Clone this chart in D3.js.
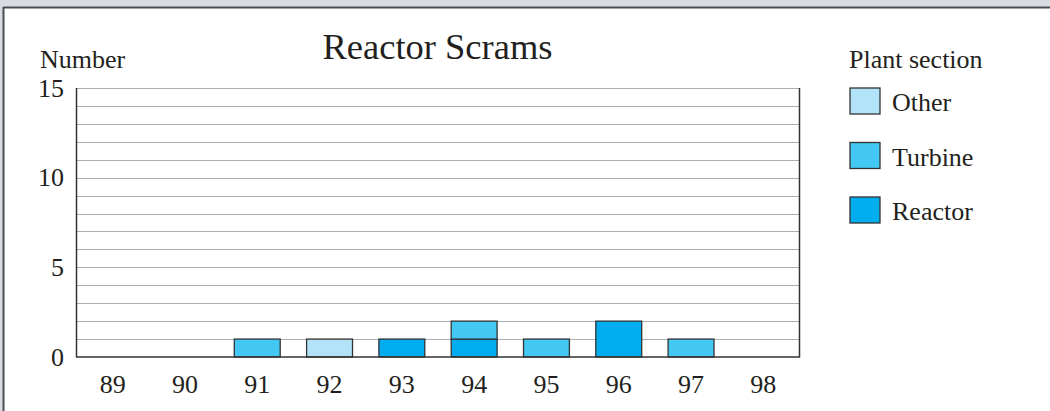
<!DOCTYPE html>
<html>
<head>
<meta charset="utf-8">
<script src="https://cdn.jsdelivr.net/npm/d3@7.9.0/dist/d3.min.js"></script>
<style>
  body { margin: 0; background: #d9dde1; }
  svg { display: block; font-family: "Liberation Serif", "Times New Roman", serif; }
</style>
</head>
<body>
<svg id="chart" width="1050" height="411"></svg>
<script>
// data
const years = ['89', '90', '91', '92', '93', '94', '95', '96', '97', '98'];
const sections = ['Reactor', 'Turbine', 'Other'];
const reactor = [0, 0, 0, 0, 1, 1, 0, 2, 0, 0];
const turbine = [0, 0, 1, 0, 0, 1, 1, 0, 1, 0];
const other   = [0, 0, 0, 1, 0, 0, 0, 0, 0, 0];
const yTicks = [0, 5, 10, 15];
const legendOrder = ['Other', 'Turbine', 'Reactor'];

const colors = { Other: '#b3e3f9', Turbine: '#42c8f3', Reactor: '#00adee' };

const svg = d3.select('#chart');

// window panel
svg.append('rect').attr('x', 4).attr('y', 8).attr('width', 1046).attr('height', 403).attr('fill', '#fff');
svg.append('line').attr('x1', 3).attr('x2', 1050).attr('y1', 7.5).attr('y2', 7.5)
  .attr('stroke', '#4a4d52').attr('stroke-width', 2);
svg.append('line').attr('x1', 3.5).attr('x2', 3.5).attr('y1', 7).attr('y2', 411)
  .attr('stroke', '#4a4d52').attr('stroke-width', 2);

const pLeft = 76.5, pRight = 799.5, pTop = 88, pBottom = 357;

const x = d3.scaleBand().domain(years).range([pLeft, pRight]).paddingInner(0.365).paddingOuter(0.1825);
const y = d3.scaleLinear().domain([0, 15]).range([pBottom, pTop]);

// grid lines at each unit
svg.append('g').selectAll('line').data(d3.range(1, 16)).join('line')
  .attr('x1', pLeft).attr('x2', pRight)
  .attr('y1', d => Math.round(y(d)) + 0.5).attr('y2', d => Math.round(y(d)) + 0.5)
  .attr('stroke', '#a9afb7').attr('stroke-width', 1);

// stacked bars
const table = years.map((yr, i) => ({ year: yr, Reactor: reactor[i], Turbine: turbine[i], Other: other[i] }));
const stack = d3.stack().keys(sections)(table);

svg.append('g').selectAll('g').data(stack).join('g')
  .attr('fill', d => colors[d.key])
  .selectAll('rect').data(d => d.filter(s => s[1] > s[0] || d.key === 'Reactor')).join('rect')
  .attr('x', d => x(d.data.year))
  .attr('width', x.bandwidth())
  .attr('y', d => y(d[1]))
  .attr('height', d => y(d[0]) - y(d[1]))
  .attr('stroke', '#333')
  .attr('stroke-width', 1.3);

// axis frame
svg.append('line').attr('x1', pLeft).attr('x2', pLeft).attr('y1', pTop).attr('y2', pBottom + 0.5)
  .attr('stroke', '#333').attr('stroke-width', 1.5);
svg.append('line').attr('x1', pRight).attr('x2', pRight).attr('y1', pTop).attr('y2', pBottom + 0.5)
  .attr('stroke', '#333').attr('stroke-width', 1.5);
svg.append('line').attr('x1', pLeft).attr('x2', pRight).attr('y1', pBottom).attr('y2', pBottom)
  .attr('stroke', '#333').attr('stroke-width', 1.5);

// y tick labels
svg.append('g').selectAll('text').data(yTicks).join('text')
  .attr('x', 64).attr('y', d => y(d)).attr('dy', '0.33em')
  .attr('text-anchor', 'end').attr('font-size', 26).attr('fill', '#231f20')
  .text(d => d);

// x tick labels
svg.append('g').selectAll('text').data(years).join('text')
  .attr('x', d => x(d) + x.bandwidth() / 2).attr('y', 393)
  .attr('text-anchor', 'middle').attr('font-size', 26).attr('fill', '#231f20')
  .text(d => d);

// titles
svg.append('text').attr('x', 437.5).attr('y', 59).attr('text-anchor', 'middle')
  .attr('font-size', 36.5).attr('fill', '#231f20').text('Reactor Scrams');
svg.append('text').attr('x', 40).attr('y', 68)
  .attr('font-size', 26).attr('fill', '#231f20').text('Number');

// legend
svg.append('text').attr('x', 849).attr('y', 68)
  .attr('font-size', 26).attr('fill', '#231f20').text('Plant section');

const lg = svg.append('g').selectAll('g').data(legendOrder).join('g')
  .attr('transform', (d, i) => `translate(850, ${88 + i * 54.5})`);
lg.append('rect').attr('width', 30).attr('height', 26)
  .attr('fill', d => colors[d]).attr('stroke', '#333').attr('stroke-width', 1.3);
lg.append('text').attr('x', 42).attr('y', 23)
  .attr('font-size', 26).attr('fill', '#231f20').text(d => d);
</script>
</body>
</html>
